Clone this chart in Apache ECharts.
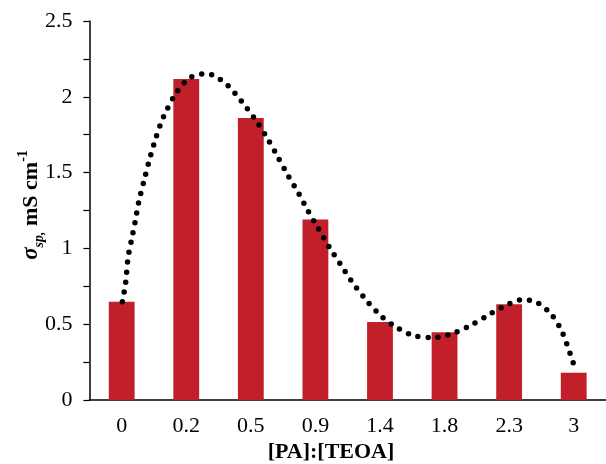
<!DOCTYPE html>
<html>
<head>
<meta charset="utf-8">
<script src="https://cdn.jsdelivr.net/npm/echarts@6/dist/echarts.min.js"></script>
<style>html,body{margin:0;padding:0;background:#fff;}#c{width:606px;height:464px;}</style>
</head>
<body>
<div id="c"></div>
<script>
// Data
const categories = ['0', '0.2', '0.5', '0.9', '1.4', '1.8', '2.3', '3'];
const barValues = [0.648, 2.117, 1.86, 1.19, 0.515, 0.447, 0.631, 0.18];
// Dotted trend curve: x in category-index units, y value
const trendX = [0.01, 0.061, 0.097, 0.149, 0.21, 0.265, 0.342, 0.419, 0.506, 0.609, 0.686, 0.839, 1.043, 1.247, 1.4, 1.646, 1.86, 2.066, 2.235, 2.388, 2.577, 2.741, 2.883, 3.037, 3.216, 3.385, 3.558, 3.753, 3.972, 4.213, 4.529, 4.836, 5.158, 5.425, 5.655, 5.909, 6.181, 6.422, 6.656, 6.82, 6.948, 6.998];
const trendY = [0.648, 0.772, 0.935, 1.049, 1.179, 1.308, 1.44, 1.568, 1.697, 1.829, 1.902, 2.023, 2.122, 2.15, 2.144, 2.073, 1.968, 1.852, 1.741, 1.627, 1.48, 1.363, 1.249, 1.137, 1.007, 0.897, 0.785, 0.677, 0.572, 0.49, 0.424, 0.411, 0.444, 0.497, 0.554, 0.615, 0.66, 0.646, 0.563, 0.449, 0.301, 0.237];

const FONT = "'Liberation Serif', 'Times New Roman', serif";
const chart = echarts.init(document.getElementById('c'), null, {renderer: 'canvas'});
const gridLeft = 89.4, gridTop = 21, gridW = 521.6, gridH = 379;

chart.setOption({
  animation: false,
  backgroundColor: '#fff',
  grid: {left: gridLeft, top: gridTop, width: gridW, height: gridH, containLabel: false},
  xAxis: [{
    type: 'category',
    data: categories,
    axisLine: {lineStyle: {color: '#000', width: 1.5}},
    axisTick: {show: false},
    axisLabel: {color: '#000', fontFamily: FONT, fontSize: 22, margin: 15},
    splitLine: {show: false}
  }, {
    type: 'value',
    min: -0.5, max: 7.5,
    show: false
  }],
  yAxis: {
    type: 'value',
    min: 0, max: 2.5, interval: 0.5,
    axisLine: {show: true, onZero: false, lineStyle: {color: '#000', width: 1.5}},
    axisTick: {show: true, length: 6, lineStyle: {color: '#000', width: 1.2}},
    minorTick: {show: true, splitNumber: 2, length: 6, lineStyle: {color: '#000', width: 1.2}},
    axisLabel: {color: '#000', fontFamily: FONT, fontSize: 22, margin: 17},
    splitLine: {show: false}
  },
  series: [{
    type: 'bar',
    data: barValues,
    barWidth: '40%',
    itemStyle: {color: '#C1202A'},
    z: 1
  }, {
    type: 'line',
    xAxisIndex: 1,
    data: trendX.map((x, i) => [x, trendY[i]]),
    smooth: 0.3,
    showSymbol: false,
    lineStyle: {color: '#000', width: 5.5, type: [0, 10], cap: 'round'},
    z: 3
  }],
  graphic: [{
    type: 'text',
    x: 331, y: 452,
    style: {
      text: '[PA]:[TEOA]',
      font: "bold 22px " + FONT,
      fill: '#000',
      textAlign: 'center',
      textVerticalAlign: 'middle'
    }
  }, {
    type: 'text',
    x: 31, y: 205,
    rotation: Math.PI / 2,
    style: {
      text: '{s|σ}{sub|sp,}{m| mS cm}{sup|-1}',
      fill: '#000',
      textAlign: 'center',
      textVerticalAlign: 'middle',
      rich: {
        s: {font: "italic bold 23px " + FONT, fill: '#000', lineHeight: 30, verticalAlign: 'middle'},
        sub: {font: "italic bold 14px " + FONT, fill: '#000', lineHeight: 30, verticalAlign: 'bottom'},
        m: {font: "bold 22px " + FONT, fill: '#000', lineHeight: 30, verticalAlign: 'middle'},
        sup: {font: "bold 14px " + FONT, fill: '#000', lineHeight: 30, verticalAlign: 'top'}
      }
    }
  }]
});
</script>
</body>
</html>
